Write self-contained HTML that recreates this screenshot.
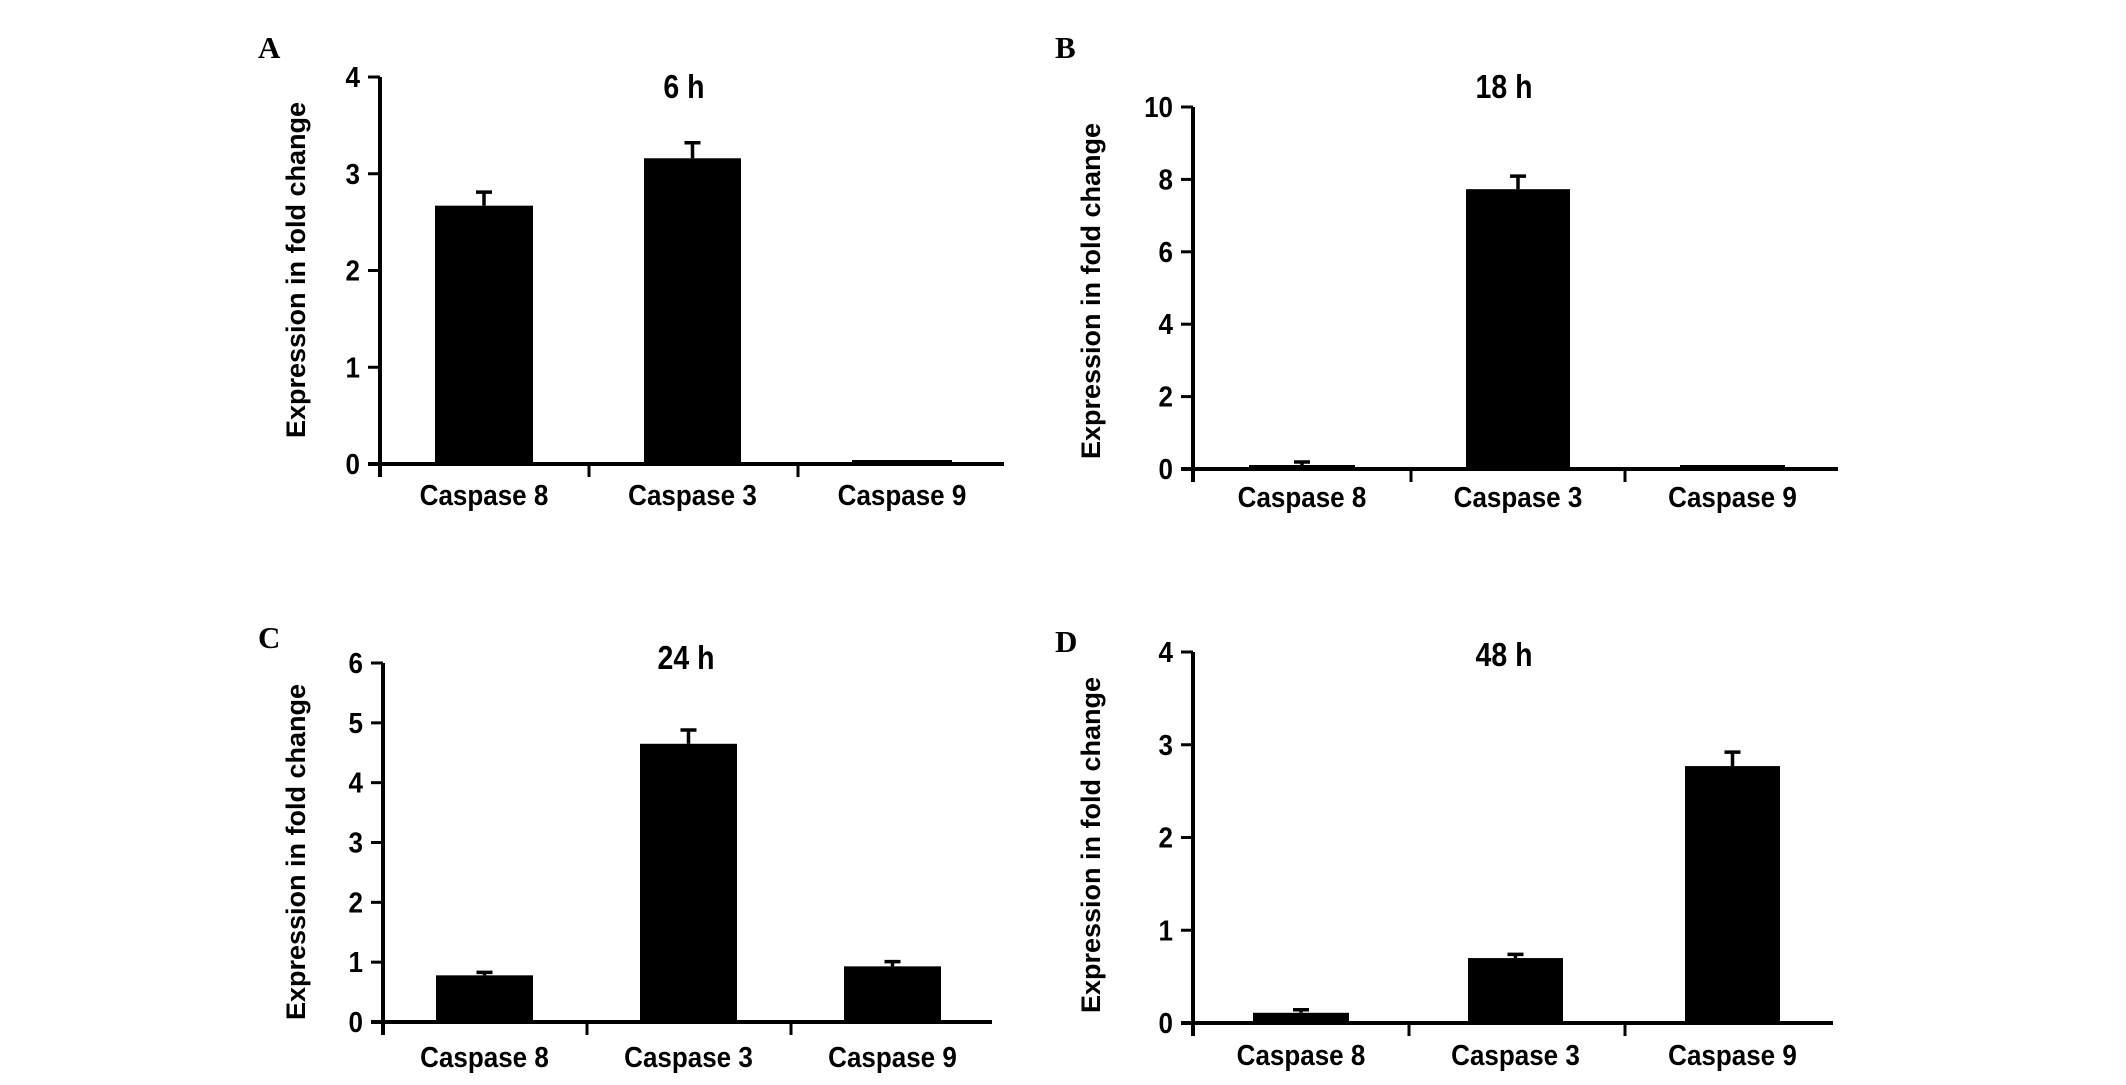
<!DOCTYPE html>
<html><head><meta charset="utf-8"><style>
html,body{margin:0;padding:0;background:#fff;}
svg{display:block;}
text{font-family:"Liberation Sans",Arial,sans-serif;font-weight:bold;fill:#000;}
.lbl{font-family:"Liberation Serif","Times New Roman",serif;}
</style></head><body>
<svg id="fig" width="2126" height="1085" viewBox="0 0 2126 1085" xmlns="http://www.w3.org/2000/svg"></svg>
<script>
const categories = ["Caspase 8","Caspase 3","Caspase 9"];
const panelLetters = ["A","B","C","D"];
const panelTitles = ["6 h","18 h","24 h","48 h"];
const yMaxes = [4,10,6,4];
const yTickLabelsA = [0,1,2,3,4];
const yTickLabelsB = [0,2,4,6,8,10];
const yTickLabelsC = [0,1,2,3,4,5,6];
const yTickLabelsD = [0,1,2,3,4];
const valuesA = [2.67,3.16,0.02];
const errorsA = [0.14,0.16,0];
const valuesB = [0.05,7.73,0.04];
const errorsB = [0.05,0.36,0];
const valuesC = [0.78,4.65,0.93];
const errorsC = [0.04,0.23,0.08];
const valuesD = [0.11,0.70,2.77];
const errorsD = [0.02,0.04,0.15];

const layouts = [
 {ax:380,top:77,bottom:464,right:1004,ticks:[380,589,798],bars:[[435,533],[644,741],[852,952]],titleX:684,titleY:98,catY:505,yt:[296,270],let:[258,58]},
 {ax:1193,top:107,bottom:469,right:1838,ticks:[1193,1411,1625],bars:[[1249,1355],[1466,1570],[1680,1785]],titleX:1504,titleY:98,catY:507,yt:[1091,291],let:[1055,58]},
 {ax:383,top:663,bottom:1022,right:992,ticks:[383,587,791],bars:[[436,533],[640,737],[844,941]],titleX:686,titleY:669,catY:1067,yt:[296,852],let:[258,648]},
 {ax:1193,top:652,bottom:1023,right:1833,ticks:[1193,1409,1625],bars:[[1253,1349],[1468,1563],[1685,1780]],titleX:1504,titleY:666,catY:1065,yt:[1091,845],let:[1055,652]}
];
const allValues=[valuesA,valuesB,valuesC,valuesD];
const allErrors=[errorsA,errorsB,errorsC,errorsD];
const allTicks=[yTickLabelsA,yTickLabelsB,yTickLabelsC,yTickLabelsD];
const NS="http://www.w3.org/2000/svg";
const svg=document.getElementById('fig');
function mk(tag,attrs,parent){const e=document.createElementNS(NS,tag);for(const k in attrs)e.setAttribute(k,attrs[k]);parent.appendChild(e);return e;}

layouts.forEach((L,p)=>{
  const g=mk('g',{},svg);
  
  
  const yScale=v=>L.bottom-(v/yMaxes[p])*(L.bottom-L.top);
  const letter=mk('text',{x:L.let[0],y:L.let[1],'font-size':31,class:'lbl'},g);
  letter.textContent=panelLetters[p];
  
  
  const title=mk('text',{x:0,y:0,'font-size':30,'text-anchor':'middle',transform:`translate(${L.titleX},${L.titleY}) scale(0.95,1.1)`},g);
  title.textContent=panelTitles[p];
  
  
  const yt=mk('text',{x:0,y:0,'font-size':27,'text-anchor':'middle','dominant-baseline':'central',transform:`translate(${L.yt[0]},${L.yt[1]}) rotate(-90)`},g);
  yt.textContent="Expression in fold change";
  
  
  allValues[p].forEach((v,i)=>{
    const [x0,x1]=L.bars[i];
    const h=Math.max(L.bottom-yScale(v),4);
    const r=mk('rect',{x:x0,y:L.bottom-h,width:x1-x0,height:h,fill:'#000'},g);
    
    
    const e=allErrors[p][i];
    if(e>0){
      const cx=(x0+x1)/2, y=L.bottom-h, ye=Math.min(yScale(v+e),y-3);
      const eb=mk('path',{d:`M${cx},${y} V${ye} M${cx-8},${ye} H${cx+8}`,stroke:'#000','stroke-width':3.5,fill:'none'},g);
      
      
    }
  });
  const ya=mk('line',{x1:L.ax,y1:L.top,x2:L.ax,y2:L.bottom+13,stroke:'#000','stroke-width':4},g);
  
  
  const xa=mk('line',{x1:L.ax-12,y1:L.bottom,x2:L.right,y2:L.bottom,stroke:'#000','stroke-width':4},g);
  
  
  L.ticks.slice(1).forEach(tx=>{
    const t=mk('line',{x1:tx,y1:L.bottom,x2:tx,y2:L.bottom+13,stroke:'#000','stroke-width':3},g);
    
    
  });
  allTicks[p].forEach(v=>{
    const y=yScale(v);
    const t=mk('line',{x1:L.ax-12,y1:y,x2:L.ax,y2:y,stroke:'#000','stroke-width':3},g);
    
    
    const tl=mk('text',{x:0,y:0,'font-size':26,'text-anchor':'end',transform:`translate(${L.ax-20},${y+10}) scale(1,1.1)`},g);
    tl.textContent=v;
    
    
  });
  categories.forEach((c,i)=>{
    const cx=(L.bars[i][0]+L.bars[i][1])/2;
    const ct=mk('text',{x:0,y:0,'font-size':26,'text-anchor':'middle',transform:`translate(${cx},${L.catY}) scale(1,1.1)`},g);
    ct.textContent=c;
    
    
  });
});
</script>
</body></html>
